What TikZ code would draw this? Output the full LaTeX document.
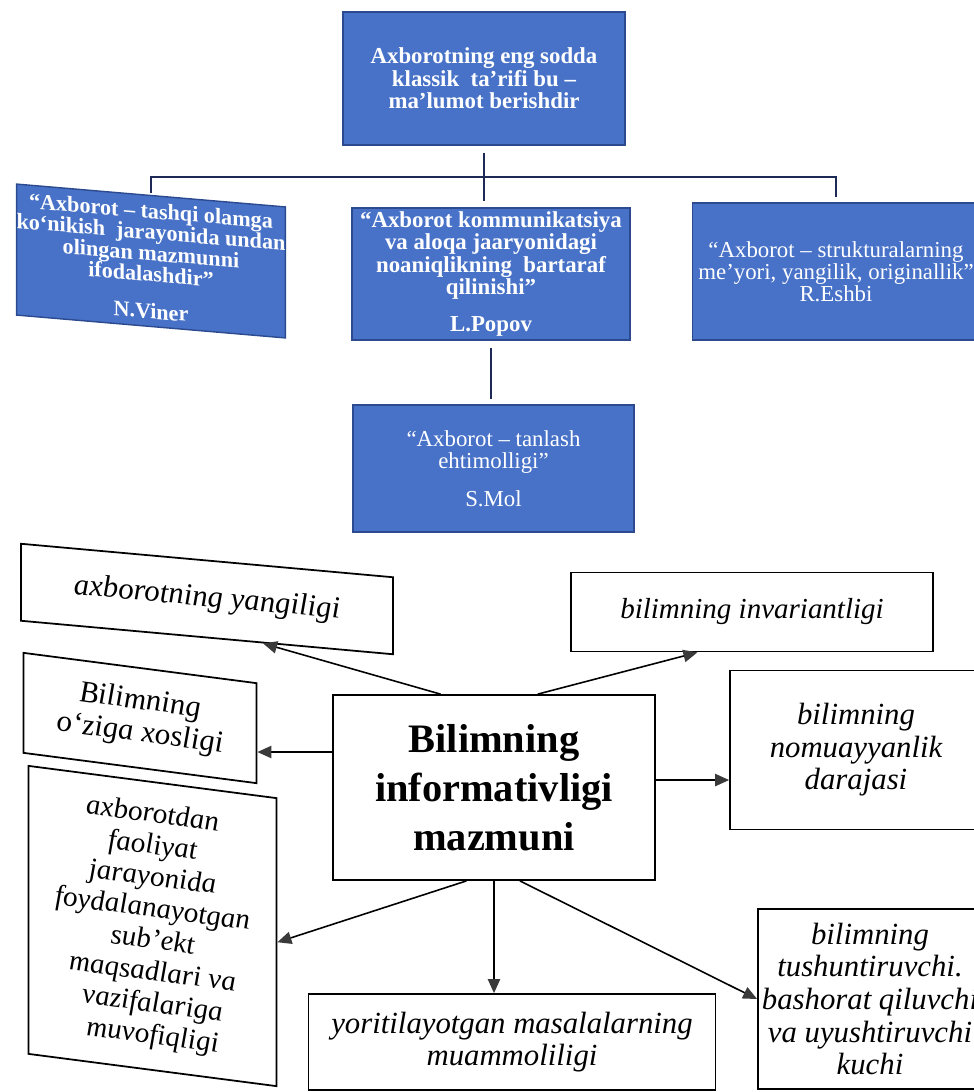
\documentclass[tikz,border=0pt]{standalone}
\usepackage{fontspec}
\setmainfont{Liberation Serif}[ItalicFont={Liberation Serif Italic}, BoldFont={Liberation Serif Bold}]
\usetikzlibrary{calc,arrows.meta}
\definecolor{boxblue}{HTML}{4872C8}
\definecolor{boxedge}{HTML}{2B4A8F}
\definecolor{treeline}{HTML}{1C2A55}
\definecolor{headgray}{HTML}{3A3A3A}
\tikzset{
      bluebox/.style={draw=boxedge, line width=0.8pt, fill=boxblue, text=white, inner sep=0pt, align=center},   % definitions
      boldtext/.style={font=\bfseries\fontsize{13}{12.8}\selectfont},
      plaintext/.style={font=\fontsize{13}{12.5}\selectfont},
      notebox/.style={draw, line width=1pt, fill=white, inner sep=0pt, align=center, font=\itshape\fontsize{17.5}{18.5}\selectfont},
      tree/.style={treeline, line width=1.6pt},
      linkarrow/.style={line width=0.9pt, -{Triangle[length=8pt, width=7pt, color=headgray]}}
}
\begin{document}
\begin{tikzpicture}
      \useasboundingbox (0, 0) rectangle (19.48, -21.84);
      % definitions of axborot
      \node (def) at (9.68, -1.57) [bluebox, boldtext, minimum width=5.64cm, minimum height=2.66cm] {Axborotning eng sodda\\ klassik \ ta’rifi bu –\\ ma’lumot berishdir};
      \node (viner) at (3.02, -5.22) [bluebox, yslant=-0.085, font=\bfseries\fontsize{12.6}{12}\selectfont, minimum width=5.32cm, minimum height=2.62cm] {“Axborot – tashqi olamga\\ ko‘nikish \ jarayonida undan\\ olingan mazmunni\\ ifodalashdir”\\[9pt] N.Viner};
      \node (popov) at (9.82, -5.48) [bluebox, boldtext, minimum width=5.56cm, minimum height=2.64cm] {“Axborot kommunikatsiya\\ va aloqa jaaryonidagi\\ noaniqlikning \ bartaraf\\ qilinishi”\\[8pt] L.Popov};
      \node (eshbi) at (16.72, -5.43) [bluebox, plaintext, minimum width=5.74cm, minimum height=2.74cm] {“Axborot – strukturalarning\\ me’yori, yangilik, originallik”\\ R.Eshbi};
      \node (smol) at (9.87, -9.37) [bluebox, plaintext, minimum width=5.62cm, minimum height=2.54cm] {“Axborot – tanlash\\ ehtimolligi”\\[9pt] S.Mol};

      \coordinate (bar) at (9.72, -3.54);
      \draw [tree] ([yshift=-0.14cm]def.south) -- ([yshift=0.12cm]def.south |- popov.north);
      \draw [tree] ([yshift=0.04cm]viner.north) |- (bar) -| ([yshift=0.1cm]eshbi.north);
      \draw [tree] ([yshift=-0.14cm]popov.south) -- ([yshift=0.1cm]popov.south |- smol.north);

      % informativlik and its sides
      \node (info) at (9.88, -15.75) [notebox, font=\bfseries\fontsize{23}{28}\selectfont, minimum width=6.44cm, minimum height=3.7cm] {Bilimning\\ informativligi\\ mazmuni};
      \node (yang) at (4.14, -11.98) [notebox, yslant=-0.09, minimum width=7.44cm, minimum height=1.54cm] {axborotning yangiligi};
      \node (oz) at (2.80, -14.36) [notebox, yslant=-0.13, minimum width=4.66cm, minimum height=2.0cm] {Bilimning\\ o‘ziga xosligi};
      \node (axb) at (3.05, -18.52) [notebox, yslant=-0.13, font=\itshape\fontsize{16.5}{18}\selectfont, minimum width=4.96cm, minimum height=5.76cm] {axborotdan\\ faoliyat\\ jarayonida\\ foydalanayotgan\\ sub’ekt\\ maqsadlari va\\ vazifalariga\\ muvofiqligi};
      \node (inv) at (15.04, -12.24) [notebox, font=\itshape\fontsize{16.5}{18}\selectfont, minimum width=7.24cm, minimum height=1.58cm] {bilimning invariantligi};
      \node (nom) at (17.12, -15.0) [notebox, minimum width=5.04cm, minimum height=3.18cm] {bilimning\\ nomuayyanlik\\ darajasi};
      \node (yor) at (10.24, -20.84) [notebox, minimum width=8.14cm, minimum height=1.92cm] {yoritilayotgan masalalarning\\ muammoliligi};
      \node (tush) at (17.40, -19.98) [notebox, minimum width=4.48cm, minimum height=3.6cm] {bilimning\\ tushuntiruvchi.\\ bashorat qiluvchi\\ va uyushtiruvchi\\ kuchi};

      \coordinate (lft) at ($(info.west)!0.38!(info.north west)$);
      \draw [linkarrow] ($(info.north)!0.33!(info.north west)$) -- ($(yang.south)!0.3!(yang.south east)$);
      \draw [linkarrow] ($(info.north)!0.27!(info.north east)$) -- ($(inv.south)!0.3!(inv.south west)$);
      \draw [linkarrow] (lft) -- (lft -| oz.east);
      \draw [linkarrow] ($(info.east)!0.08!(info.north east)$) coordinate (rgt) -- (rgt -| nom.west);
      \draw [linkarrow] ($(info.south)!0.17!(info.south west)$) -- (axb.east);
      \draw [linkarrow] (info.south) -- (info.south |- yor.north);
      \draw [linkarrow] ($(info.south)!0.16!(info.south east)$) -- (tush.west);
\end{tikzpicture}
\end{document}
